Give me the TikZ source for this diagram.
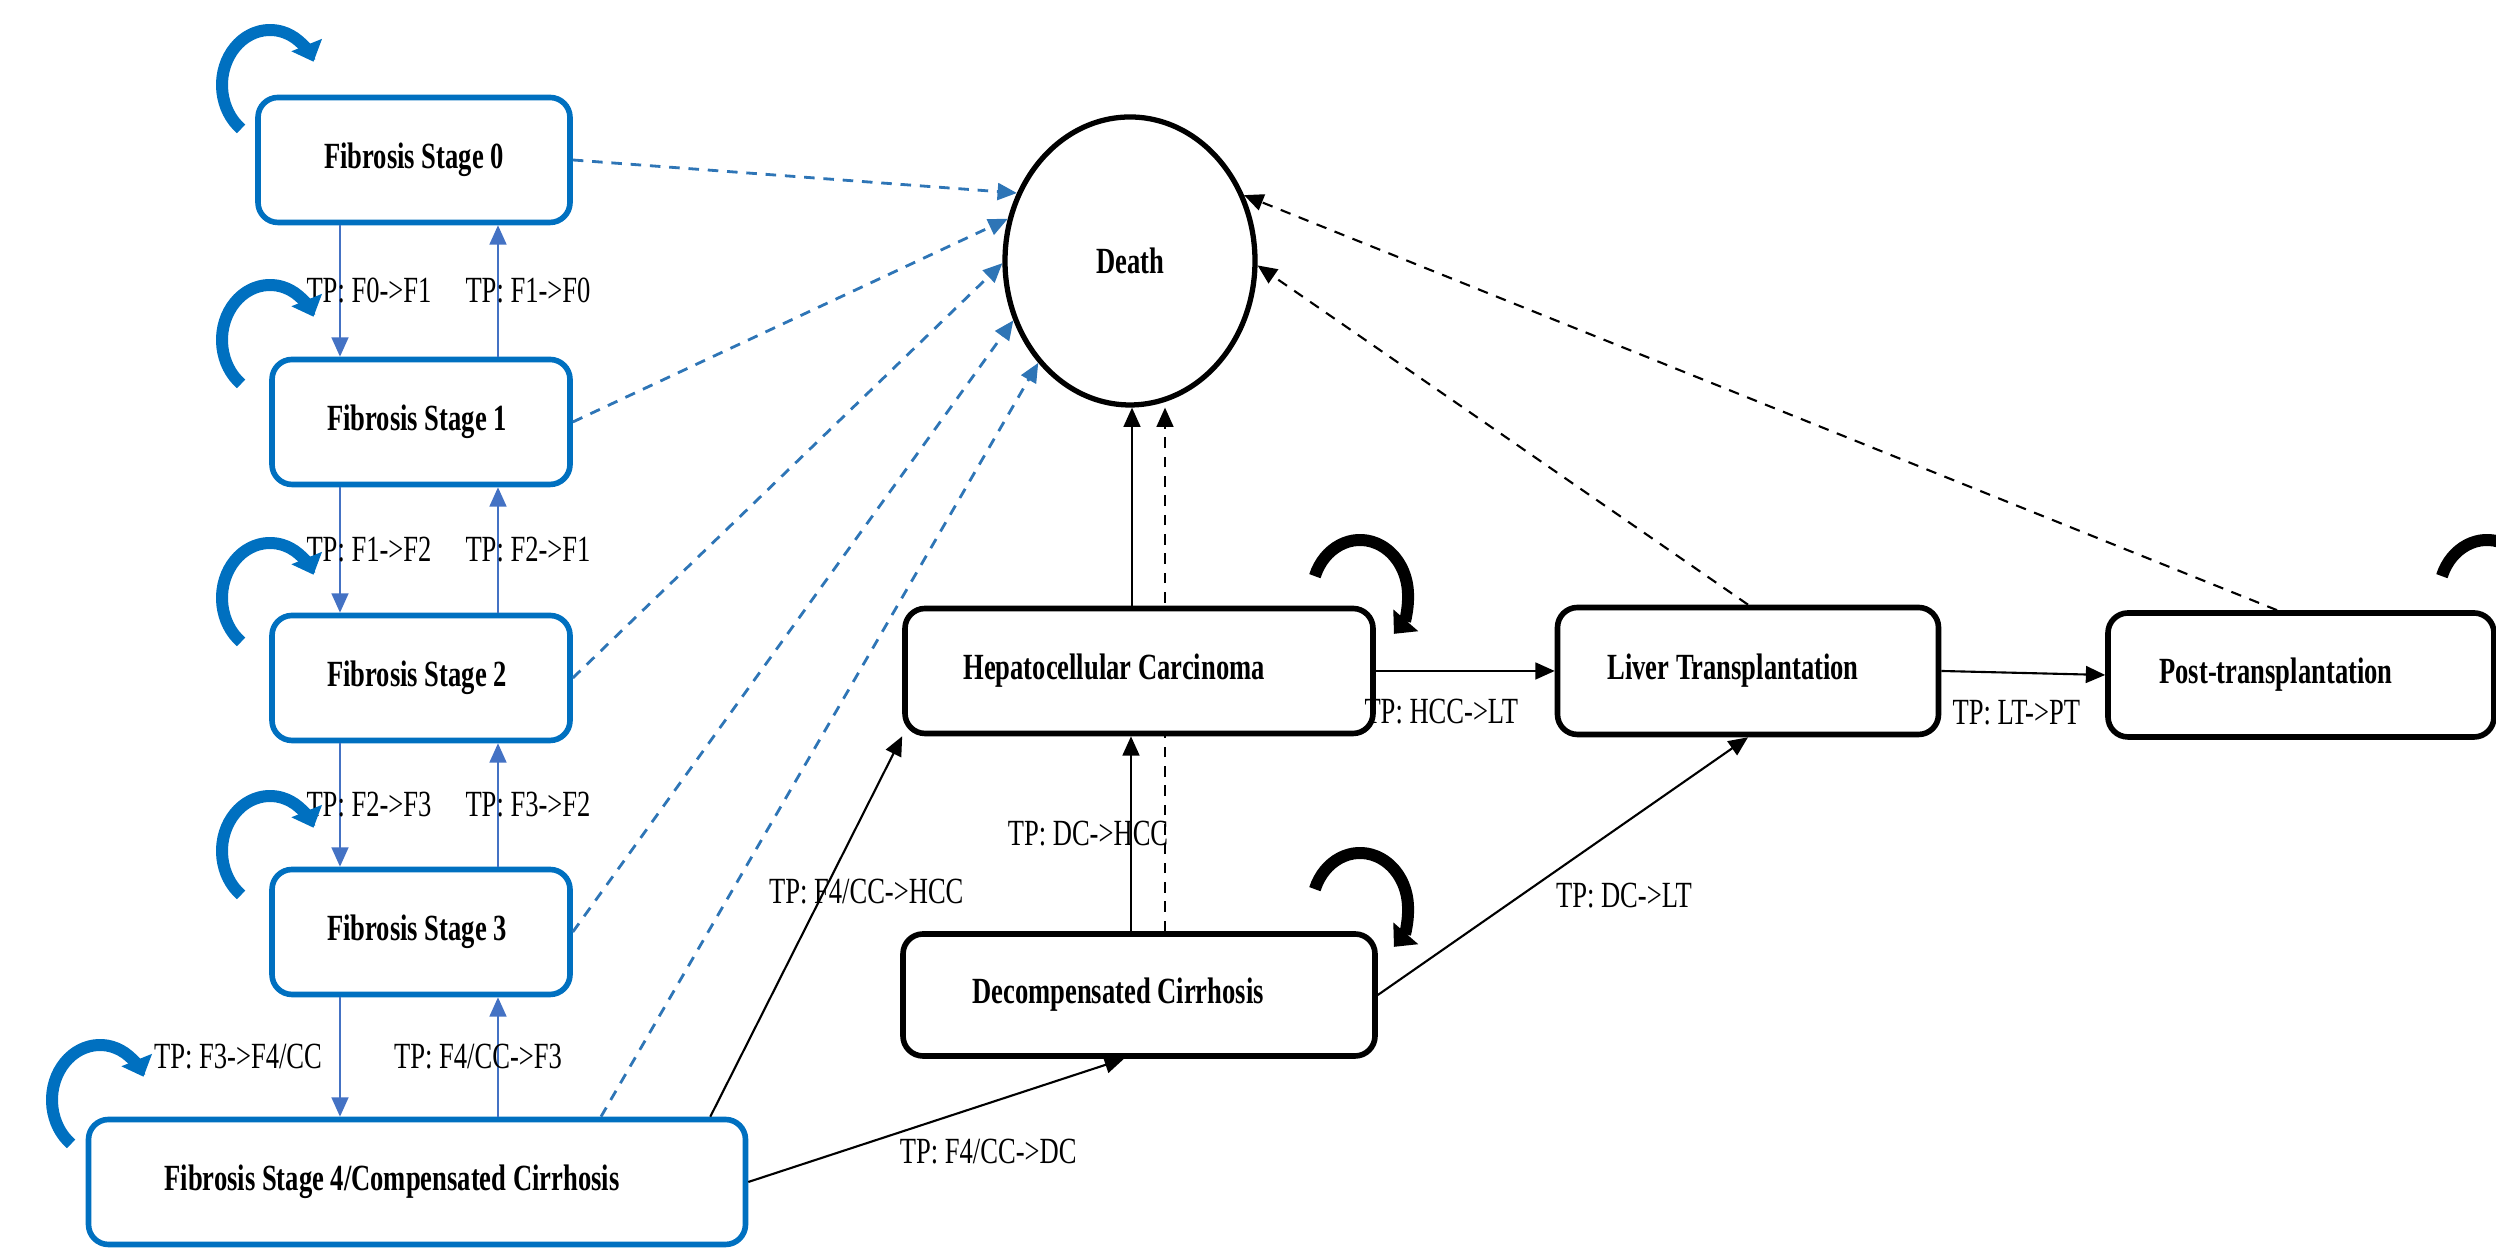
\documentclass[tikz,border=0pt]{standalone}
\usepackage{fontspec}
\setmainfont{Liberation Serif}[FakeStretch=0.72]
\usepackage{tikz}
\usetikzlibrary{shapes, arrows.meta, positioning}
\definecolor{fibblue}{HTML}{0070C0}
\definecolor{linkblue}{HTML}{4472C4}
\definecolor{deadblue}{HTML}{2E75B6}
\def\sz{\fontsize{10.5}{12.5}\selectfont}
\def\pad{\hspace*{0.5cm}}
\tikzstyle{fbox}=[draw=fibblue, line width=1.6pt, rectangle, rounded corners=0.2cm, fill=white, font=\sz\bfseries, minimum height=1.25cm]
\tikzstyle{sbox}=[draw=black, line width=1.6pt, rectangle, rounded corners=0.2cm, fill=white, font=\sz\bfseries, minimum height=1.25cm]
\tikzstyle{dbox}=[draw=black, line width=1.5pt, ellipse, fill=white, font=\sz\bfseries, minimum width=2.5cm, minimum height=2.88cm]
\tikzstyle{tp}=[font=\sz, text=black, inner sep=1pt]
\tikzstyle{fib}=[->, linkblue, line width=0.6pt]
\tikzstyle{todeath}=[->, deadblue, line width=0.8pt, dash pattern=on 3pt off 2.5pt]
\tikzstyle{link}=[->, black, line width=0.6pt]
\tikzstyle{linkdash}=[->, black, line width=0.6pt, dash pattern=on 3pt off 2.5pt]
\tikzstyle{loopblue}=[-{Triangle[length=0.18cm,width=0.32cm]}, fibblue, line width=0.12cm]
\tikzstyle{loopblack}=[-{Triangle[length=0.18cm,width=0.32cm]}, black, line width=0.12cm]

\begin{document}
\begin{tikzpicture}[>={Triangle[length=5.5pt,width=4.8pt]}]
	\useasboundingbox (0,0) rectangle (24.96,12.51);
	% fibrosis stages
	\node[fbox, minimum width=3.12cm] (F0) at (4.14,10.91) {Fibrosis Stage 0};
	\node[fbox, minimum width=2.98cm, below of=F0, xshift=0.07cm, yshift=-1.62cm] (F1) {Fibrosis Stage 1\hspace*{0.08cm}};
	\node[fbox, minimum width=2.98cm, below of=F1, yshift=-1.56cm] (F2) {Fibrosis Stage 2\hspace*{0.08cm}};
	\node[fbox, minimum width=2.98cm, below of=F2, yshift=-1.54cm] (F3) {Fibrosis Stage 3\hspace*{0.08cm}};
	\node[fbox, minimum width=6.57cm, below of=F3, xshift=-0.04cm, yshift=-1.50cm] (F4) {Fibrosis Stage 4/Compensated Cirrhosis\pad};
	% death, cirrhosis, cancer, transplant
	\node[dbox] (Death) at (11.30,9.90) {Death};
	\node[sbox, minimum width=4.72cm, minimum height=1.22cm] (DC) at (11.39,2.56) {Decompensated Cirrhosis\hspace*{0.42cm}};
	\draw[linkdash] ([xshift=0.26cm]DC.north) -- ([xshift=0.26cm]DC.north |- Death.south);
	\node[sbox, minimum width=4.68cm, above of=DC, yshift=2.24cm] (HCC) {Hepatocellular Carcinoma\pad};
	\node[sbox, minimum width=3.81cm, minimum height=1.27cm, right of=HCC, xshift=5.09cm] (LT) {Liver Transplantation\hspace*{0.3cm}};
	\node[sbox, minimum width=3.86cm, minimum height=1.24cm, right of=LT, xshift=4.53cm, yshift=-0.04cm] (PT) {Post-transplantation\pad};

	% transitions between fibrosis stages
	\coordinate (dn) at (3.40,0);
	\coordinate (up) at (4.98,0);
	\foreach \a/\b in {0/1, 1/2, 2/3} {
		\draw[fib] (F\a.south -| dn) -- node[tp, xshift=0.29cm]{TP: F\a->F\b} (F\b.north -| dn);
		\draw[fib] (F\b.north -| up) -- node[tp, xshift=0.30cm]{TP: F\b->F\a} (F\a.south -| up);
	}
	\draw[fib] (F3.south -| dn) -- node[tp, xshift=-1.02cm]{TP: F3->F4/CC} (F4.north -| dn);
	\draw[fib] (F4.north -| up) -- node[tp, xshift=-0.20cm]{TP: F4/CC->F3} (F3.south -| up);

	% to death
	\draw[todeath] (F0.east) -- (Death.149);
	\draw[todeath] (F1.east) -- (Death.161);
	\draw[todeath] (F2.east) -- (Death.181);
	\draw[todeath] (F3.east) -- (Death.207);
	\draw[todeath] ([xshift=1.84cm]F4.north) -- (Death.228);
	\draw[link] ([xshift=-0.07cm]HCC.north) -- ([xshift=-0.07cm]HCC.north |- Death.south);
	\draw[linkdash] (LT.north) -- (Death.-2);
	\draw[linkdash] ([xshift=-0.24cm]PT.north) -- (Death.30);

	% other transitions
	\draw[link] ([xshift=-0.38cm]F4.north east) -- node[tp, xshift=0.60cm, yshift=0.35cm]{TP: F4/CC->HCC} (HCC.south west);
	\draw[link] (F4.east) -- node[tp, xshift=0.52cm, yshift=-0.31cm]{TP: F4/CC->DC} ([xshift=-0.15cm]DC.south);
	\draw[link] ([xshift=-0.08cm]DC.north) -- node[tp, xshift=-0.43cm]{TP: DC->HCC} ([xshift=-0.08cm]HCC.south);
	\draw[link] (HCC.east) -- node[tp, xshift=-0.24cm, yshift=-0.41cm]{TP: HCC->LT} (LT.west);
	\draw[link] (LT.east) -- node[tp, xshift=-0.07cm, yshift=-0.40cm]{TP: LT->PT} (PT.west);
	\draw[link] (DC.east) -- node[tp, xshift=0.61cm, yshift=-0.29cm]{TP: DC->LT} (LT.south);

	% staying in the same state
	\foreach \cx/\cy in {2.70/11.66, 2.70/9.11, 2.70/6.53, 2.70/4.00, 1.00/1.51}
		\draw[loopblue] (\cx,\cy) ++(233:0.48 and 0.55) arc[start angle=233, end angle=25, x radius=0.48, y radius=0.55];
	\foreach \cx/\cy in {13.60/6.56, 13.60/3.43, 24.87/6.56}
		\draw[loopblack] (\cx,\cy) ++(160:0.48 and 0.55) arc[start angle=160, end angle=-45, x radius=0.48, y radius=0.55];
\end{tikzpicture}
\end{document}
